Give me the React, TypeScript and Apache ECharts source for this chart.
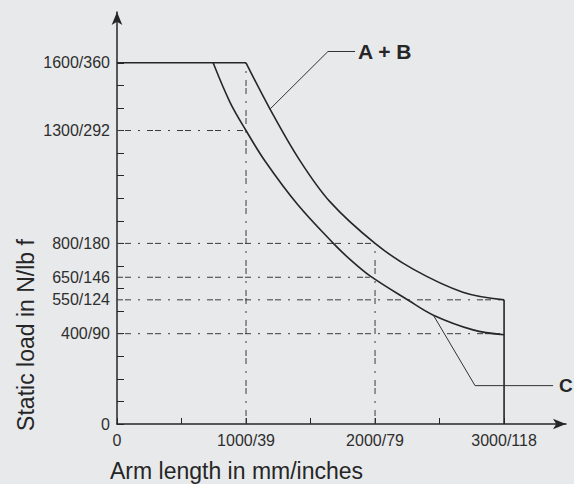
import React, { useEffect, useRef } from "react";
import * as echarts from "echarts";

// ---- data ----
const xTickValues = [0, 500, 1000, 1500, 2000, 2500, 3000];
const xLabelValues = [0, 1000, 2000, 3000];
const xLabelTexts = ["0", "1000/39", "2000/79", "3000/118"];

const yTickValues = [0, 100, 200, 300, 400, 500, 600, 700, 800, 900, 1000, 1100, 1200, 1300, 1400, 1500, 1600];
const yLabelValues = [0, 400, 550, 650, 800, 1300, 1600];
const yLabelTexts = ["0", "400/90", "550/124", "650/146", "800/180", "1300/292", "1600/360"];

const flatTop = [[0, 1600], [1000, 1600]];
const curveAB = [[1000, 1600], [1186, 1395], [1413, 1171], [1650, 985], [2000, 800], [2295, 686], [2680, 584], [3000, 550]];
const curveC = [[745, 1600], [876, 1425], [1000, 1300], [1147, 1165], [1400, 972], [1677, 800], [1808, 728], [1961, 656], [2258, 548], [2452, 482], [2760, 417], [3000, 395]];
const endLine = [[3000, 0], [3000, 550]];

// horizontal reference lines: [load, arm length where it stops]
const refH = [[1300, 1000], [800, 2000], [650, 1960], [550, 3000], [400, 3000]];
// vertical reference lines: [arm length, load where it stops]
const refV = [[1000, 1600], [2000, 800]];

const leaderAB = [[1186, 1395], [1635, 1650], [1845, 1650]];
const leaderC = [[2452, 482], [2775, 170], [3380, 170]];
const labelAB = "A + B";
const labelC = "C";

const xTitle = "Arm length in mm/inches";
const yTitle = "Static load in N/lb f";

const FONT = '"Liberation Sans", Arial, Helvetica, sans-serif';
const INK = "#262626";
const dashPattern = [6, 2, 6, 7, 2, 7];

export default function App() {
  const ref = useRef<HTMLDivElement>(null);
  useEffect(() => {
    if (!ref.current) return;
    const chart = echarts.init(ref.current, null, { renderer: "svg" });

    const refSeries: any[] = [];
    refH.forEach(([v, ext]) =>
      refSeries.push({
        type: "line",
        data: [[0, v], [ext, v]],
        symbol: "none",
        silent: true,
        z: 1,
        lineStyle: { color: "#3a3a3a", width: 1, type: dashPattern },
      })
    );
    refV.forEach(([x, top]) =>
      refSeries.push({
        type: "line",
        data: [[x, 0], [x, top]],
        symbol: "none",
        silent: true,
        z: 1,
        lineStyle: { color: "#3a3a3a", width: 1, type: dashPattern },
      })
    );

    const solid = (data: number[][], smooth: number | boolean = false) => ({
      type: "line",
      data,
      symbol: "none",
      smooth,
      silent: true,
      z: 3,
      lineStyle: { color: INK, width: 1.6 },
    });

    const leader = (data: number[][], text: string, size: number, dist: number) => ({
      type: "line",
      data,
      symbol: "none",
      silent: true,
      z: 3,
      lineStyle: { color: "#333", width: 1 },
      endLabel: {
        show: true,
        formatter: text,
        distance: dist,
        fontFamily: FONT,
        fontWeight: "bold",
        fontSize: size,
        color: INK,
      },
    });

    chart.setOption({
      animation: false,
      backgroundColor: "#e8e9eb",
      textStyle: { fontFamily: FONT },
      grid: { left: 117, right: 8, top: 12, bottom: 60 },
      xAxis: {
        type: "value",
        min: 0,
        max: 3480,
        splitLine: { show: false },
        axisLine: {
          show: true,
          lineStyle: { color: INK, width: 1.5 },
          symbol: ["none", "arrow"],
          symbolSize: [8, 13],
        },
        axisTick: {
          show: true,
          inside: true,
          length: 6,
          customValues: xTickValues,
          lineStyle: { color: INK, width: 1 },
        },
        axisLabel: {
          customValues: xLabelValues,
          formatter: (v: number) => xLabelTexts[xLabelValues.indexOf(v)] ?? "",
          fontFamily: FONT,
          fontSize: 16,
          color: "#2e2e2e",
          margin: 8,
        },
      },
      yAxis: {
        type: "value",
        min: 0,
        max: 1825,
        splitLine: { show: false },
        axisLine: {
          show: true,
          lineStyle: { color: INK, width: 1.5 },
          symbol: ["none", "arrow"],
          symbolSize: [8, 13],
        },
        axisTick: {
          show: true,
          inside: true,
          length: 7,
          customValues: yTickValues,
          lineStyle: { color: INK, width: 1 },
        },
        axisLabel: {
          customValues: yLabelValues,
          formatter: (v: number) => yLabelTexts[yLabelValues.indexOf(v)] ?? "",
          fontFamily: FONT,
          fontSize: 16,
          color: "#2e2e2e",
          margin: 7,
        },
      },
      graphic: [
        {
          type: "text",
          x: 26,
          y: 335,
          rotation: Math.PI / 2,
          style: {
            text: yTitle,
            font: `23px ${FONT}`,
            fill: INK,
            align: "center",
            verticalAlign: "middle",
          },
        },
        {
          type: "text",
          x: 110,
          y: 471,
          style: {
            text: xTitle,
            font: `23px ${FONT}`,
            fill: INK,
            align: "left",
            verticalAlign: "middle",
          },
        },
      ],
      series: [
        ...refSeries,
        solid(flatTop),
        solid(curveAB, 0.35),
        solid(curveC, 0.35),
        solid(endLine),
        leader(leaderAB, labelAB, 21, 3),
        leader(leaderC, labelC, 19, 6),
      ],
    });
    return () => chart.dispose();
  }, []);
  return <div ref={ref} style={{ width: 574, height: 484, position: "absolute", left: 0, top: 0 }} />;
}
